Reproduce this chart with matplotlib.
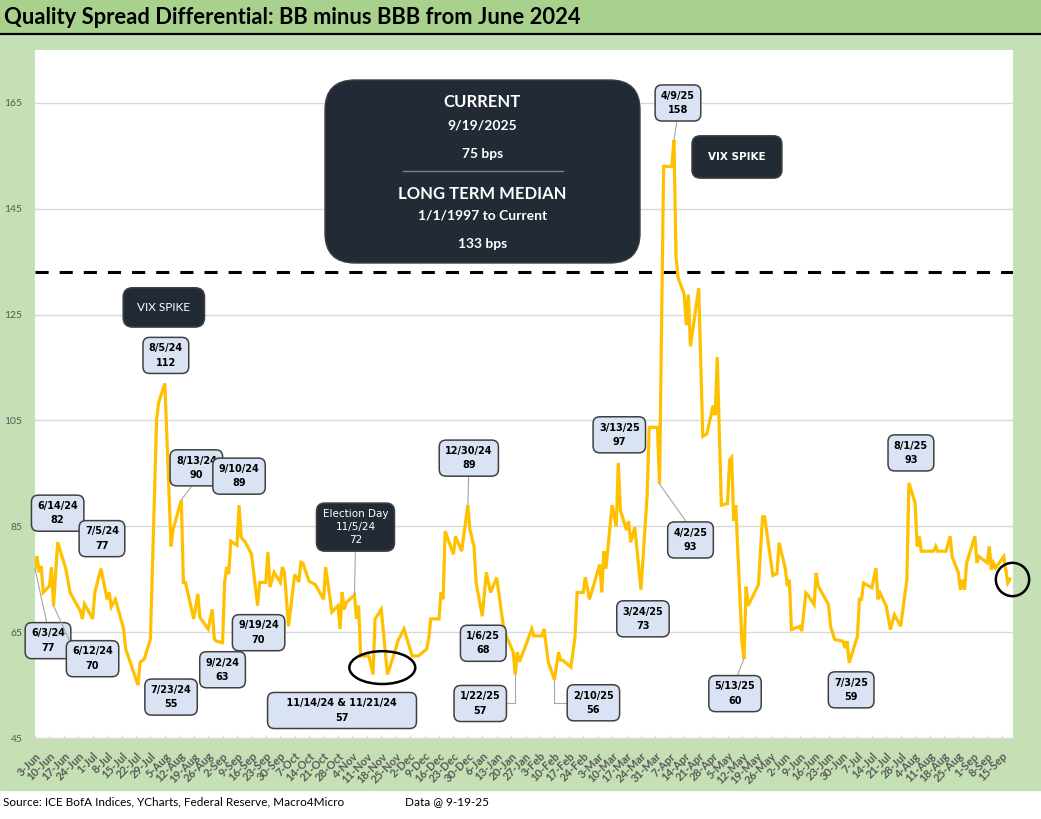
import matplotlib
matplotlib.use("Agg")
import matplotlib.pyplot as plt
import matplotlib.dates as mdates
from matplotlib.patches import FancyBboxPatch, Rectangle, Ellipse
from matplotlib.lines import Line2D
from matplotlib.transforms import IdentityTransform
import pandas as pd

plt.rcParams['font.family'] = ['Lato', 'DejaVu Sans']

# BB minus BBB spread differential (bps)
dates = [
    '2024-06-03', '2024-06-04', '2024-06-05', '2024-06-06', '2024-06-07', '2024-06-10', '2024-06-11',
    '2024-06-12', '2024-06-14', '2024-06-18', '2024-06-20', '2024-06-25', '2024-06-26', '2024-06-27',
    '2024-07-01', '2024-07-02', '2024-07-05', '2024-07-08', '2024-07-09', '2024-07-10', '2024-07-12',
    '2024-07-16', '2024-07-17', '2024-07-23', '2024-07-24', '2024-07-26', '2024-07-29', '2024-08-01',
    '2024-08-02', '2024-08-05', '2024-08-08', '2024-08-09', '2024-08-13', '2024-08-14', '2024-08-15',
    '2024-08-19', '2024-08-21', '2024-08-22', '2024-08-26', '2024-08-28', '2024-08-29', '2024-08-30',
    '2024-09-02', '2024-09-03', '2024-09-04', '2024-09-05', '2024-09-06', '2024-09-09', '2024-09-10',
    '2024-09-11', '2024-09-13', '2024-09-16', '2024-09-19', '2024-09-20', '2024-09-23', '2024-09-24',
    '2024-09-25', '2024-09-27', '2024-09-30', '2024-10-01', '2024-10-02', '2024-10-04', '2024-10-07',
    '2024-10-09', '2024-10-10', '2024-10-11', '2024-10-14', '2024-10-17', '2024-10-21', '2024-10-22',
    '2024-10-24', '2024-10-25', '2024-10-28', '2024-10-29', '2024-10-30', '2024-10-31', '2024-11-01',
    '2024-11-05', '2024-11-06', '2024-11-07', '2024-11-08', '2024-11-12', '2024-11-14', '2024-11-15',
    '2024-11-18', '2024-11-21', '2024-11-25', '2024-11-26', '2024-11-29', '2024-12-03', '2024-12-06',
    '2024-12-10', '2024-12-11', '2024-12-12', '2024-12-16', '2024-12-17', '2024-12-18', '2024-12-19',
    '2024-12-23', '2024-12-24', '2024-12-27', '2024-12-30', '2024-12-31',
    '2025-01-02', '2025-01-03', '2025-01-06', '2025-01-08', '2025-01-10', '2025-01-13', '2025-01-16',
    '2025-01-17', '2025-01-21', '2025-01-22', '2025-01-23', '2025-01-24', '2025-01-27', '2025-01-30',
    '2025-01-31', '2025-02-04', '2025-02-05', '2025-02-07', '2025-02-10', '2025-02-12', '2025-02-13',
    '2025-02-14', '2025-02-18', '2025-02-20', '2025-02-21', '2025-02-24', '2025-02-25', '2025-02-27',
    '2025-03-04', '2025-03-05', '2025-03-06', '2025-03-07', '2025-03-10', '2025-03-12', '2025-03-13',
    '2025-03-14', '2025-03-17', '2025-03-18', '2025-03-19', '2025-03-21', '2025-03-24', '2025-03-27',
    '2025-03-28', '2025-03-31', '2025-04-01', '2025-04-02', '2025-04-04', '2025-04-07', '2025-04-08',
    '2025-04-09', '2025-04-10', '2025-04-11', '2025-04-14', '2025-04-15', '2025-04-16', '2025-04-17',
    '2025-04-21', '2025-04-23', '2025-04-25', '2025-04-28', '2025-04-29', '2025-04-30', '2025-05-02',
    '2025-05-05', '2025-05-06', '2025-05-07', '2025-05-08', '2025-05-09', '2025-05-12', '2025-05-13',
    '2025-05-14', '2025-05-15', '2025-05-19', '2025-05-20', '2025-05-22', '2025-05-23', '2025-05-27',
    '2025-05-29', '2025-05-30', '2025-06-02', '2025-06-03', '2025-06-04', '2025-06-05', '2025-06-09',
    '2025-06-10', '2025-06-12', '2025-06-13', '2025-06-16', '2025-06-17', '2025-06-18', '2025-06-23',
    '2025-06-24', '2025-06-26', '2025-06-30', '2025-07-01', '2025-07-02', '2025-07-03', '2025-07-07',
    '2025-07-08', '2025-07-09', '2025-07-10', '2025-07-14', '2025-07-16', '2025-07-17', '2025-07-18',
    '2025-07-21', '2025-07-23', '2025-07-25', '2025-07-28', '2025-07-31', '2025-08-01', '2025-08-04',
    '2025-08-05', '2025-08-06', '2025-08-07', '2025-08-13', '2025-08-14', '2025-08-15', '2025-08-19',
    '2025-08-21', '2025-08-22', '2025-08-25', '2025-08-26', '2025-08-27', '2025-08-28', '2025-08-29',
    '2025-09-02', '2025-09-03', '2025-09-04', '2025-09-08', '2025-09-09', '2025-09-10', '2025-09-11',
    '2025-09-12', '2025-09-16', '2025-09-18', '2025-09-19',
]
spread = [
    77, 79.4, 76.3, 77.5, 72.5, 73.7, 77.2,
    70, 82, 76.9, 72.5, 69, 67.5, 70.3,
    67.5, 72.5, 77, 71.2, 72.5, 69.8, 71.2,
    65.6, 61.8, 55, 59.3, 59.9, 63.7, 105.2,
    108.4, 112, 81.2, 84.4, 90, 74.4, 74.4,
    67.5, 72.2, 67.8, 65.6, 69.3, 63.7, 63.3,
    63, 74.4, 77.3, 76, 82.2, 81.4, 89,
    82.9, 82, 79.8, 70, 74.4, 74.4, 80.1,
    73.5, 76.3, 74.4, 77.3, 76.4, 66.1, 75.9,
    74.5, 78.2, 78, 74.6, 74, 71.2, 77.3,
    71.8, 68.8, 70, 65.6, 72.5, 69.3, 70.6,
    72, 67.5, 70, 60.5, 60.5, 57, 67.5,
    69.3, 57, 61.8, 63.3, 65.6, 60.5, 60.5,
    61.8, 63.7, 67.5, 67.5, 72.5, 71.2, 84.1,
    79.7, 83.1, 80.3, 89, 84.4,
    81.2, 74.4, 68, 76.3, 72.5, 75.3, 66.8,
    64.9, 61.2, 57, 61.2, 59.4, 62.4, 65.6,
    64.3, 64.3, 65.6, 59.4, 56, 61.2, 59.7,
    59.7, 58.4, 64.1, 72.5, 72.5, 75.4, 71.2,
    77.8, 72.5, 80.3, 77, 89, 85, 97,
    88, 84.3, 86, 82, 84.8, 73, 90.9,
    103.7, 103.7, 103.7, 93, 153, 153, 153,
    158, 136, 132, 128.8, 123, 128.8, 119,
    130, 102, 102.5, 107.8, 106, 117, 89,
    89.3, 97.5, 98, 86, 89, 63, 60,
    73.6, 70, 73.2, 74, 86.8, 86.8, 75.7,
    76.1, 81.9, 77.1, 73.7, 74.9, 65.5, 66.1,
    65.2, 72.4, 72, 70.2, 76.2, 73.7, 70.2,
    66.1, 63.6, 63.3, 62, 63.3, 59.2, 64.2,
    71.2, 71.2, 74.3, 73.4, 77.1, 71.2, 72.4,
    69.9, 65.5, 68.3, 66.1, 74.9, 93.2, 89.4,
    81.2, 83.1, 80.3, 80.3, 81.2, 80.3, 80.3,
    83.1, 79.2, 76.2, 73, 74.9, 73, 78.1,
    83.1, 78.1, 79.3, 78.1, 81.2, 76.8, 78.1,
    77.1, 79.3, 74.3, 75,
]
long_term_median = 133
median_period = '1/1/1997 to Current'

tag_dates = [
    '2024-06-03', '2024-06-14', '2024-06-12', '2024-07-05', '2024-07-23', '2024-08-05',
    '2024-08-13', '2024-09-10', '2024-09-19', '2024-09-02', '2024-12-30', '2025-01-06',
    '2025-01-22', '2025-02-10', '2025-03-13', '2025-03-24', '2025-04-02', '2025-04-09',
    '2025-05-13', '2025-07-03', '2025-08-01',
]
election_day = '2024-11-05'
post_election_lows = ['2024-11-14', '2024-11-21']
vix_spikes = ['2024-08-05', '2025-04-09']

s = pd.Series(spread, index=pd.to_datetime(dates))

W, H = 1041, 819
fig = plt.figure(figsize=(W / 100, H / 100), dpi=100)


def fy(y):
    return 1 - y / H


# backgrounds: title band, green chart frame
fig.add_artist(Rectangle((0, fy(790)), 1, fy(34) - fy(790), transform=fig.transFigure,
                         color='#C5E0B4', zorder=-2))
fig.add_artist(Rectangle((0, fy(33)), 1, 1 - fy(33), transform=fig.transFigure,
                         color='#A9D18E', zorder=-2))
fig.add_artist(Line2D([0, 1], [fy(33.5)] * 2, transform=fig.transFigure, color='black', lw=1.6))
fig.text(4 / W, fy(18), 'Quality Spread Differential: BB minus BBB from June 2024',
         fontsize=15.8, weight='bold', va='center', ha='left')

ax = fig.add_axes([35 / W, fy(738), (1013 - 35) / W, fy(50) - fy(738)])
ax.set_facecolor('white')
ax.plot(s.index, s.values, color='#FFC000', lw=2.3, zorder=3, solid_joinstyle='miter')
ax.axhline(long_term_median, color='black', lw=2.2, dashes=(4.3, 3.6), zorder=2)

ax.set_ylim(45, 175)
ax.set_yticks(range(45, 166, 20))
ax.set_xlim(s.index[0], s.index[-1] + pd.Timedelta(hours=36))
ax.xaxis.set_major_locator(mdates.WeekdayLocator(byweekday=mdates.MO))
ax.xaxis.set_major_formatter(mdates.DateFormatter('%-d-%b'))
ax.grid(axis='y', color='#D9D9D9', lw=1)
ax.set_axisbelow(True)
for side in ['top', 'right', 'left']:
    ax.spines[side].set_visible(False)
ax.spines['bottom'].set_color('#D9D9D9')
ax.tick_params(axis='y', length=0, pad=9, labelsize=7.5, labelcolor='#595959')
ax.tick_params(axis='x', length=4, direction='inout', color='#D9D9D9', labelsize=8,
               labelcolor='#595959', pad=7)
plt.setp(ax.get_xticklabels(), rotation=45, ha='right', va='top', rotation_mode='anchor',
         weight='bold')

BLUE = dict(boxstyle='round,pad=0.6,rounding_size=0.7', fc='#DAE3F3', ec='#404040', lw=1.1)
DARK = dict(boxstyle='round,pad=0.6,rounding_size=0.8', fc='#222A35', ec='#404040', lw=1.1)


def tag(date, text, dx, dy, box=BLUE, color='black', relpos=None, elbow=False,
        fs=7, family='DejaVu Sans', weight='bold', ls=1.55):
    d = pd.Timestamp(date)
    kw = {}
    if relpos is not None:
        kw['arrowprops'] = dict(arrowstyle='-', color='#A6A6A6', lw=0.8, shrinkA=0, shrinkB=0,
                                relpos=relpos,
                                connectionstyle='angle,angleA=0,angleB=90,rad=0' if elbow else 'arc3')
    ax.annotate(text, xy=(d, s[d]), xytext=(dx, dy), textcoords='offset pixels',
                ha='center', va='center', fontsize=fs, family=family, weight=weight,
                color=color, linespacing=ls, bbox=box, zorder=6, annotation_clip=False, **kw)


def date_text(d, year4=False):
    d = pd.Timestamp(d)
    return f'{d.month}/{d.day}/{d.year if year4 else d.strftime("%y")}'


# offsets (pixels) of each label box from its point, plus leader style
layout = {
    '2024-06-03': (13, -72, (0.5, 1), False),
    '2024-06-12': (39, -53, (0, 1), False),
    '2024-06-14': (0, 29, None, False),
    '2024-07-05': (1, 30, None, False),
    '2024-07-23': (33, -12, None, False),
    '2024-08-05': (1, 28, None, False),
    '2024-08-13': (15, 32, (0.5, 0), False),
    '2024-09-02': (0, -27, None, False),
    '2024-09-10': (0, 29, None, False),
    '2024-09-19': (1, -27, None, False),
    '2024-12-30': (1, 47, (0.5, 0), False),
    '2025-01-06': (1, -27, None, False),
    '2025-01-22': (-35, -29, (1, 0.5), True),
    '2025-02-10': (39, -23, (0, 0.5), True),
    '2025-03-13': (1, 28, None, False),
    '2025-03-24': (2, -29, None, False),
    '2025-04-02': (31, -56, (0.5, 1), False),
    '2025-04-09': (4, 37, (0.5, 0), False),
    '2025-05-13': (-9, -35, (0.5, 1), False),
    '2025-07-03': (2, -27, None, False),
    '2025-08-01': (2, 30, None, False),
}
for d in tag_dates:
    dx, dy, rp, elbow = layout[d]
    tag(d, f'{date_text(d)}\n{s[pd.Timestamp(d)]:.0f}', dx, dy, relpos=rp, elbow=elbow)

lo1, lo2 = [pd.Timestamp(d) for d in post_election_lows]
tag(lo1, f'    {date_text(lo1)} & {date_text(lo2)}    \n{s[lo1]:.0f}', -31, -36)
mid = lo1 + (lo2 - lo1) / 2
ax.add_patch(Ellipse((mdates.date2num(mid) + 1, s[lo1] + 1.3), width=32, height=6.2,
                     fill=False, ec='black', lw=1.8, zorder=4))

tag(election_day, f'Election Day\n{date_text(election_day)}\n{s[pd.Timestamp(election_day)]:.0f}',
    1, 68, box=DARK, color='white', relpos=(0.5, 0), fs=7.5, weight='normal', ls=1.35)

VIX = dict(boxstyle='round,pad=1.2,rounding_size=0.8', fc='#222A35', ec='#404040', lw=1.1)
tag(vix_spikes[0], 'VIX SPIKE', -1, 76, box=VIX, color='white', fs=8.5, family='Lato', weight='normal')
tag(vix_spikes[1], 'VIX SPIKE', 63, -17,
    box=dict(VIX, boxstyle='round,pad=1.55,rounding_size=0.8'),
    color='white', fs=7.5, family='DejaVu Sans', weight='bold')

# circle on the latest reading
ax.plot([s.index[-1] + pd.Timedelta(days=1)], [s.iloc[-1]], marker='o', ms=24, mfc='none',
        mec='black', mew=1.8, zorder=5, clip_on=False)

# summary box (pixel coordinates, measured from the top)
pix = IdentityTransform()
fig.add_artist(FancyBboxPatch((325, H - 263), 315, 183, boxstyle='round,pad=0,rounding_size=30',
                              transform=pix, fc='#222A35', ec='#404040', lw=1, zorder=4))
cx = 482.5
last = s.index[-1]
rows = [
    ('CURRENT', 102, 12),
    (date_text(last, year4=True), 125, 10),
    (f'{s.iloc[-1]:.0f} bps', 154, 10),
    ('LONG TERM MEDIAN', 194, 12),
    (median_period, 216, 10),
    (f'{long_term_median} bps', 244, 10),
]
for txt, y, fs in rows:
    fig.text(cx, H - y, txt, transform=pix, ha='center', va='center', color='white',
             fontsize=fs, weight='bold', zorder=5)
fig.add_artist(Line2D([403, 563], [H - 171] * 2, transform=pix, color='#7F7F7F', lw=1, zorder=5))

fig.text(3 / W, fy(802), 'Source: ICE BofA Indices, YCharts, Federal Reserve, Macro4Micro',
         fontsize=8.5, va='center')
fig.text(405 / W, fy(802), 'Data @ 9-19-25', fontsize=8.5, va='center')

fig.savefig('out.png', dpi=100)
